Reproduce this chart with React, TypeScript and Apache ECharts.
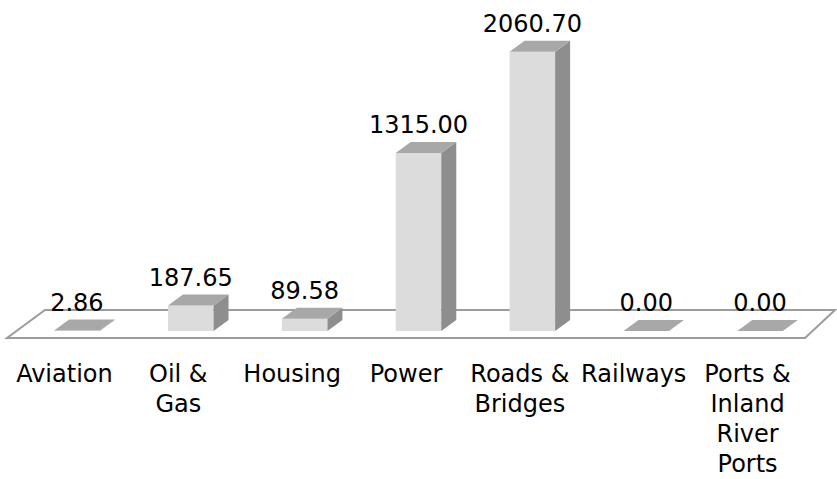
import React, { useEffect, useRef } from "react";
import * as echarts from "echarts";

const categories = [
  "Aviation",
  "Oil &\nGas",
  "Housing",
  "Power",
  "Roads &\nBridges",
  "Railways",
  "Ports &\nInland\nRiver\nPorts",
];
const values = [2.86, 187.65, 89.58, 1315.0, 2060.7, 0.0, 0.0];
const valueLabels = ["2.86", "187.65", "89.58", "1315.00", "2060.70", "0.00", "0.00"];

const FONT = "'DejaVu Sans', sans-serif";

export default function App() {
  const ref = useRef<HTMLDivElement>(null);
  useEffect(() => {
    if (!ref.current) return;
    const chart = echarts.init(ref.current, undefined, { renderer: "svg" });
    const DX = 15;
    const DY = 11;
    const renderItem = (params: any, api: any) => {
      const idx = api.value(0);
      const v = api.value(1);
      const top = api.coord([idx, v]);
      const base = api.coord([idx, 0]);
      const bw = api.size([1, 0])[0] * 0.4;
      const x0 = base[0] - bw / 2;
      const x1 = base[0] + bw / 2;
      const yb = base[1];
      const yt = Math.min(top[1], yb - 0.01);
      const children: any[] = [];
      if (params.dataIndex === 0) {
        const cs = params.coordSys;
        const left = cs.x;
        const right = cs.x + cs.width;
        const bottom = cs.y + cs.height;
        children.push({
          type: "polygon",
          shape: {
            points: [
              [left - 13, bottom + 7],
              [right - 12, bottom + 7],
              [right + 18, bottom - 21],
              [left + 25, bottom - 21],
            ],
          },
          style: { fill: "#ffffff", stroke: "#9c9c9c", lineWidth: 2 },
        });
      }
      children.push({
        type: "polygon",
        shape: { points: [[x0, yt], [x1, yt], [x1, yb], [x0, yb]] },
        style: { fill: "#dcdcdc" },
      });
      children.push({
        type: "polygon",
        shape: { points: [[x1, yt], [x1 + DX, yt - DY], [x1 + DX, yb - DY], [x1, yb]] },
        style: { fill: "#8e8e8e" },
      });
      children.push({
        type: "polygon",
        shape: { points: [[x0, yt], [x0 + DX, yt - DY], [x1 + DX, yt - DY], [x1, yt]] },
        style: { fill: "#a8a8a8" },
      });
      children.push({
        type: "text",
        style: {
          text: valueLabels[idx],
          x: base[0],
          y: yt - DY - 5,
          align: "center",
          verticalAlign: "bottom",
          fill: "#000",
          font: `24px ${FONT}`,
        },
      });
      return { type: "group", children };
    };
    chart.setOption({
      animation: false,
      backgroundColor: "#ffffff",
      grid: { left: 20, right: 20, top: 33, bottom: 147 },
      xAxis: {
        type: "category",
        data: categories,
        axisLine: { show: false },
        axisTick: { show: false },
        axisLabel: {
          interval: 0,
          margin: 28,
          color: "#000",
          fontFamily: FONT,
          fontSize: 24,
          lineHeight: 30,
          padding: [0, 25, 0, 0],
        },
      },
      yAxis: {
        type: "value",
        min: 0,
        max: 2200,
        show: false,
        splitLine: { show: false },
      },
      series: [
        {
          type: "custom",
          renderItem,
          data: values.map((v, i) => [i, v]),
        },
      ],
    });
    return () => chart.dispose();
  }, []);
  return <div ref={ref} style={{ width: 837, height: 479, position: "absolute", left: 0, top: 0 }} />;
}
